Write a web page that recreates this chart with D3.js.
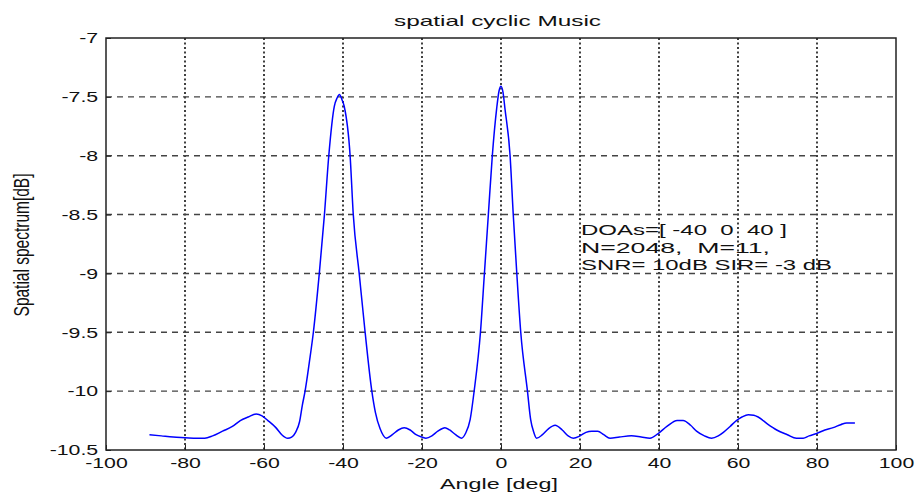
<!DOCTYPE html>
<html>
<head>
<meta charset="utf-8">
<script src="https://cdn.jsdelivr.net/npm/d3@7"></script>
<style>
    body { margin: 0; background: #fff; }
    text { font-family: "Liberation Sans", Arial, sans-serif; fill: #111; }
</style>
</head>
<body>
<div id="chart"></div>
<script>

// values
var angles = [-89, -86, -83, -80, -77, -75, -73, -70.5, -68, -66, -64, -62, -60.5, -59, -57, -55.5, -54, -53, -52, -51,
    -50.3, -49.6, -48.5, -47.5, -46, -44.7, -43.6, -42.2, -41.5, -40.9, -40.3, -39.7, -38.2, -37.4, -35.9, -34.4,
    -32.7, -31.8, -30.6, -29, -27.5, -26, -24.5, -23, -21.5, -20, -19, -17.5, -16, -14.2, -13, -11.5, -10, -9,
    -7.8, -6.8, -5.2, -4.2, -3.2, -2.2, -1.1, -0.5, 0, 0.5, 1.0, 2.3, 3.1, 4.0, 5.0, 6.7, 7.5, 8.3, 9.0, 10.5,
    12, 13.7, 15.5, 17, 18.3, 20, 21.5, 23, 24.5, 26, 27.6, 30, 33, 35.5, 37.7, 39.8, 42, 44.6, 46.1, 48, 49.5,
    51.5, 53.3, 55, 56.3, 58, 59.6, 61, 62.6, 64, 65.1, 67.5, 69.8, 72.5, 74.8, 76.5, 78, 79.9, 82, 84.1, 86,
    87.5, 89.6];
var spectrum = [-10.37, -10.38, -10.39, -10.395, -10.40, -10.40, -10.38, -10.34, -10.30, -10.25, -10.22, -10.195,
    -10.21, -10.25, -10.31, -10.37, -10.40, -10.39, -10.35, -10.26, -10.12, -10.00, -9.75, -9.50, -9.00, -8.50,
    -8.00, -7.58, -7.51, -7.48, -7.52, -7.58, -8.00, -8.50, -9.00, -9.50, -10.00, -10.18, -10.32, -10.40, -10.37,
    -10.33, -10.31, -10.33, -10.37, -10.39, -10.40, -10.38, -10.34, -10.31, -10.33, -10.37, -10.40, -10.36,
    -10.24, -10.00, -9.50, -9.00, -8.50, -8.00, -7.60, -7.45, -7.41, -7.46, -7.60, -8.00, -8.50, -9.00, -9.50,
    -10.00, -10.24, -10.35, -10.40, -10.37, -10.32, -10.29, -10.33, -10.38, -10.40, -10.38, -10.35, -10.34,
    -10.34, -10.37, -10.40, -10.39, -10.38, -10.39, -10.40, -10.36, -10.30, -10.25, -10.25, -10.29, -10.34,
    -10.38, -10.40, -10.38, -10.35, -10.30, -10.25, -10.22, -10.20, -10.205, -10.22, -10.28, -10.33, -10.37,
    -10.40, -10.40, -10.38, -10.36, -10.33, -10.31, -10.285, -10.27, -10.27];

var xTicks = [-100, -80, -60, -40, -20, 0, 20, 40, 60, 80, 100];
var yTicks = [-7, -7.5, -8, -8.5, -9, -9.5, -10, -10.5];
var xGrid = [-80, -60, -40, -20, 0, 20, 40, 60, 80];
var yGrid = [-7.5, -8, -8.5, -9, -9.5, -10];

var titleText = "spatial cyclic Music";
var xLabel = "Angle [deg]";
var yLabel = "Spatial spectrum[dB]";
var noteLines = ["DOAs=[ -40  0  40 ]", "N=2048,  M=11,", "SNR= 10dB SIR= -3 dB"];

var width = 915;
var height = 495;
var plotLeft = 106, plotRight = 896, plotTop = 38, plotBottom = 450;
var stretch = 1.42; // the picture's text is wider than it is tall

var svg = d3.select('#chart')
    .append('svg')
    .attr('width', width)
    .attr('height', height);

var x = d3.scaleLinear().domain([-100, 100]).range([plotLeft, plotRight]);
var y = d3.scaleLinear().domain([-10.5, -7]).range([plotBottom, plotTop]);

// grid: dotted verticals, dashed horizontals
svg.append('g').selectAll('line')
    .data(xGrid)
    .enter().append('line')
    .attr('x1', function (d) { return x(d); })
    .attr('x2', function (d) { return x(d); })
    .attr('y1', plotTop)
    .attr('y2', plotBottom)
    .attr('stroke', '#111')
    .attr('stroke-width', 1.6)
    .attr('stroke-dasharray', '2,2.5');

svg.append('g').selectAll('line')
    .data(yGrid)
    .enter().append('line')
    .attr('x1', plotLeft)
    .attr('x2', plotRight)
    .attr('y1', function (d) { return y(d); })
    .attr('y2', function (d) { return y(d); })
    .attr('stroke', '#444')
    .attr('stroke-width', 1.4)
    .attr('stroke-dasharray', '6,5');

// axes with inward ticks, plain hyphen minus signs
var xAxis = svg.append('g')
    .attr('transform', 'translate(0,' + plotBottom + ')')
    .call(d3.axisBottom(x).tickValues(xTicks).tickSize(-5).tickFormat(function (d) { return String(d); }));
xAxis.select('.domain').remove();
xAxis.selectAll('line').attr('stroke', '#222');
xAxis.selectAll('text')
    .attr('y', 18)
    .attr('dy', 0)
    .attr('x', 0)
    .attr('transform', 'scale(' + stretch + ',1)')
    .style('font-size', '15px')
    .style('font-family', '"Liberation Sans", Arial, sans-serif')
    .style('fill', '#111');

var yAxis = svg.append('g')
    .attr('transform', 'translate(' + plotLeft + ',0)')
    .call(d3.axisLeft(y).tickValues(yTicks).tickSize(-5).tickFormat(function (d) { return String(d); }));
yAxis.select('.domain').remove();
yAxis.selectAll('line').attr('stroke', '#222');
yAxis.selectAll('text')
    .attr('x', -5.5)
    .attr('transform', 'scale(' + stretch + ',1)')
    .style('font-size', '15px')
    .style('font-family', '"Liberation Sans", Arial, sans-serif')
    .style('fill', '#111');

// the spectrum
var points = angles.map(function (a, i) { return [a, spectrum[i]]; });

var line = d3.line()
    .x(function (d) { return x(d[0]); })
    .y(function (d) { return y(d[1]); })
    .curve(d3.curveMonotoneX);

svg.append('path')
    .datum(points)
    .attr('d', line)
    .attr('fill', 'none')
    .attr('stroke', '#0000ff')
    .attr('stroke-width', 1.5);

// plot box
svg.append('rect')
    .attr('x', plotLeft)
    .attr('y', plotTop)
    .attr('width', plotRight - plotLeft)
    .attr('height', plotBottom - plotTop)
    .attr('fill', 'none')
    .attr('stroke', '#222')
    .attr('stroke-width', 1.5);

// title and labels
svg.append('text')
    .attr('x', 497.5)
    .attr('y', 26)
    .attr('text-anchor', 'middle')
    .attr('textLength', 207)
    .attr('lengthAdjust', 'spacingAndGlyphs')
    .style('font-size', '15px')
    .text(titleText);

svg.append('text')
    .attr('x', 499)
    .attr('y', 489)
    .attr('text-anchor', 'middle')
    .attr('textLength', 118)
    .attr('lengthAdjust', 'spacingAndGlyphs')
    .style('font-size', '15px')
    .text(xLabel);

svg.append('text')
    .attr('transform', 'translate(29,245) scale(' + stretch + ',1) rotate(-90)')
    .attr('text-anchor', 'middle')
    .style('font-size', '15.5px')
    .text(yLabel);

// annotation block
var noteLengths = [206, 189, 251];
svg.append('g').selectAll('text')
    .data(noteLines)
    .enter().append('text')
    .attr('x', 581)
    .attr('y', function (d, i) { return 235 + i * 17.5; })
    .attr('textLength', function (d, i) { return noteLengths[i]; })
    .attr('lengthAdjust', 'spacingAndGlyphs')
    .style('white-space', 'pre')
    .style('font-size', '15px')
    .text(function (d) { return d; });

</script>
</body>
</html>
